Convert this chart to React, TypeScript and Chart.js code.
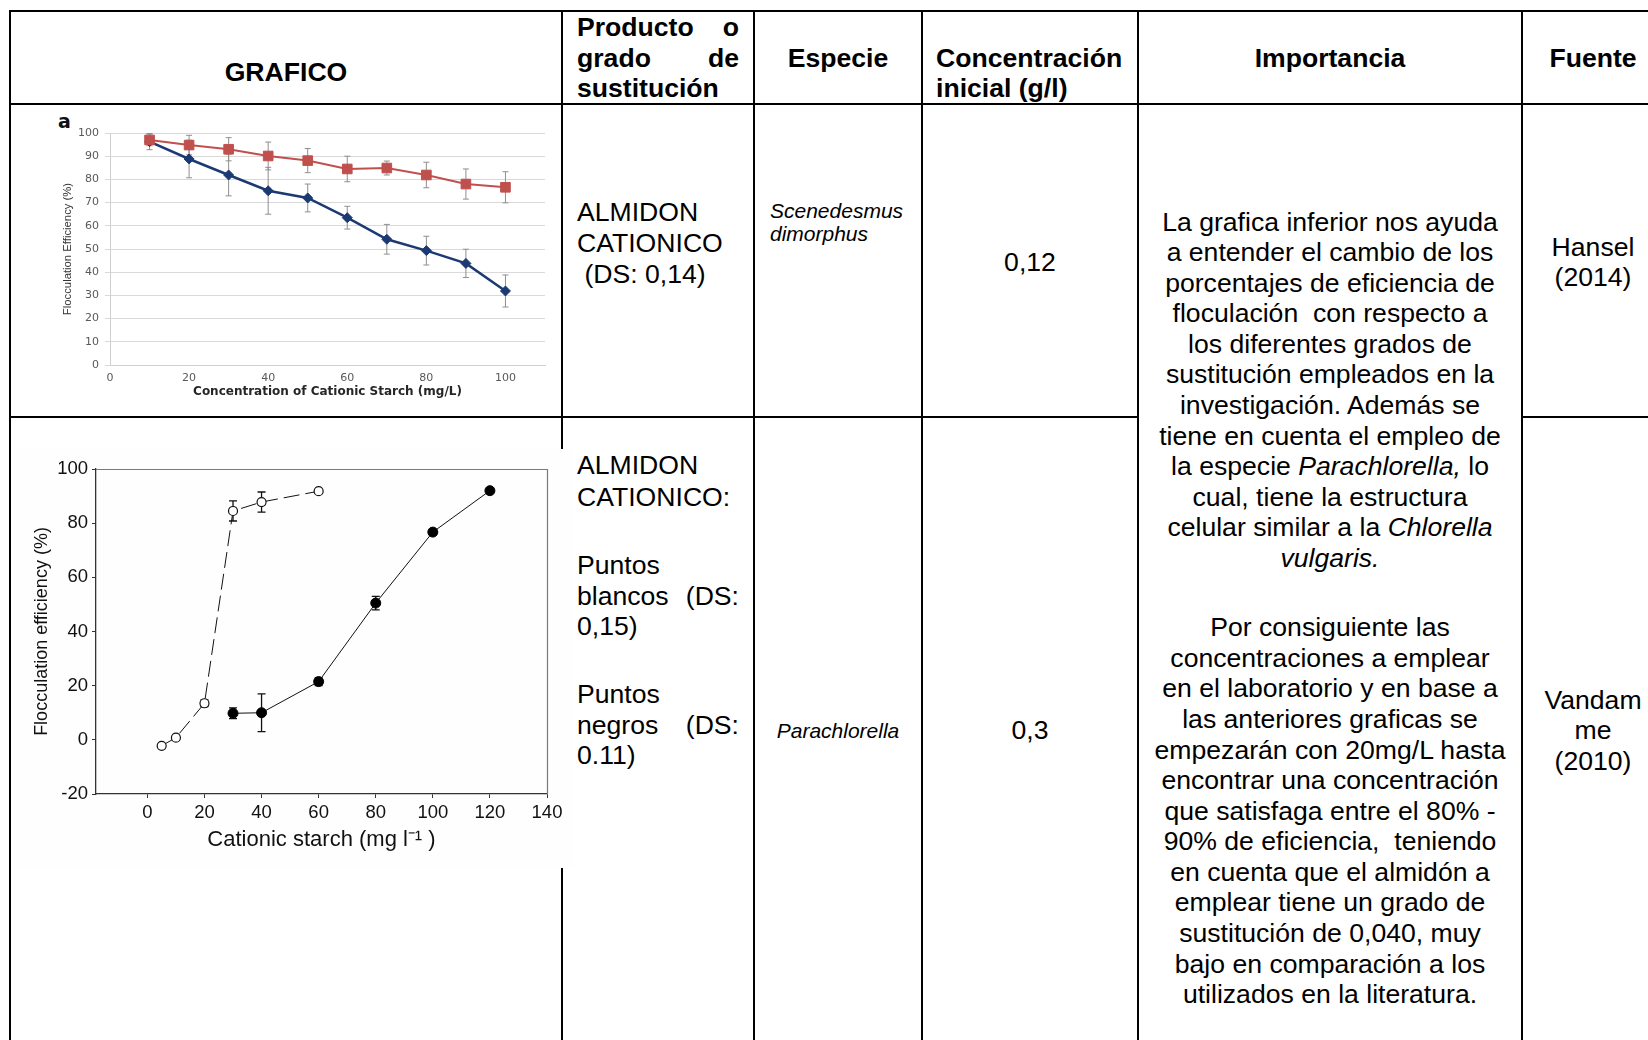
import React, { useEffect, useRef } from "react";
import { Chart, registerables } from "chart.js";

Chart.register(...registerables);

// ---------- chart a (Hansel 2014) ----------
const hanselX = [10, 20, 30, 40, 50, 60, 70, 80, 90, 100];
const hanselRed = [97, 94.8, 93, 90.1, 88.1, 84.5, 84.9, 81.9, 78, 76.6];
const hanselRedErr = [2.5, 4.2, 5, 6, 5.2, 5.5, 3, 5.5, 6.5, 6.7];
const hanselBlue = [96.3, 88.8, 81.9, 75.1, 72, 63.5, 54.2, 49.3, 43.8, 31.9];
const hanselBlueErr = [3.5, 8.1, 9, 10.1, 6, 4.9, 6.4, 6.2, 6.1, 6.9];
const hanselXTicks = [0, 20, 40, 60, 80, 100];
const hanselYTicks = [0, 10, 20, 30, 40, 50, 60, 70, 80, 90, 100];

// ---------- chart b (Vandamme 2010) ----------
const vanOpenX = [5, 10, 20, 30, 40, 60];
const vanOpenY = [-2.2, 0.8, 13.5, 84.5, 87.8, 91.8];
const vanOpenErr = [0, 0, 1.2, 3.7, 3.7, 0];
const vanFilledX = [30, 40, 60, 80, 100, 120];
const vanFilledY = [9.8, 10, 21.5, 50.5, 76.7, 92];
const vanFilledErr = [2, 7, 1.5, 2.5, 1, 0.6];
const vanXTicks = [0, 20, 40, 60, 80, 100, 120, 140];
const vanYTicks = [-20, 0, 20, 40, 60, 80, 100];

const FONT = '"Liberation Sans", Arial, sans-serif';
const FS = 26.6;
const LH = 30.58;

const errorBarPlugin = {
  id: "errorBars",
  beforeDatasetsDraw(chart: any) {
    const { ctx } = chart;
    chart.data.datasets.forEach((ds: any, i: number) => {
      if (!ds.errors) return;
      const meta = chart.getDatasetMeta(i);
      const xs = chart.scales[meta.xAxisID];
      const ys = chart.scales[meta.yAxisID];
      const cap = ds.errorCap || 3;
      ctx.save();
      ctx.strokeStyle = ds.errorColor;
      ctx.lineWidth = ds.errorWidth;
      ctx.beginPath();
      ds.data.forEach((p: any, j: number) => {
        const e = ds.errors[j];
        if (!e) return;
        const x = xs.getPixelForValue(p.x);
        const yt = ys.getPixelForValue(p.y + e);
        const yb = ys.getPixelForValue(p.y - e);
        ctx.moveTo(x, yt);
        ctx.lineTo(x, yb);
        ctx.moveTo(x - cap, yt);
        ctx.lineTo(x + cap, yt);
        ctx.moveTo(x - cap, yb);
        ctx.lineTo(x + cap, yb);
      });
      ctx.stroke();
      ctx.restore();
    });
  },
};

const framePlugin = {
  id: "frame",
  beforeDatasetsDraw(chart: any) {
    const { ctx, chartArea } = chart;
    const { left, right, top, bottom } = chartArea;
    ctx.save();
    ctx.strokeStyle = "#7a7a7a";
    ctx.lineWidth = 1.2;
    ctx.beginPath();
    ctx.moveTo(left, top + 0.5);
    ctx.lineTo(right + 0.5, top + 0.5);
    ctx.lineTo(right + 0.5, bottom);
    ctx.stroke();
    ctx.restore();
  },
};

function fixedTicks(values: number[]) {
  return (s: any) => {
    s.ticks = values.map((v) => ({ value: v }));
  };
}

function hanselConfig(): any {
  return {
    type: "scatter",
    data: {
      datasets: [
        {
          data: hanselX.map((x, i) => ({ x, y: hanselRed[i] })),
          showLine: true,
          borderColor: "#C0504D",
          backgroundColor: "#C0504D",
          borderWidth: 2,
          pointStyle: "rect",
          pointRadius: 6.8,
          pointBorderWidth: 1,
          errors: hanselRedErr,
          errorColor: "#8f8f8f",
          errorWidth: 1,
          errorCap: 3,
        },
        {
          data: hanselX.map((x, i) => ({ x, y: hanselBlue[i] })),
          showLine: true,
          borderColor: "#1B3A74",
          backgroundColor: "#1B3A74",
          borderWidth: 2.5,
          pointStyle: "rectRot",
          pointRadius: 5,
          pointBorderWidth: 1,
          errors: hanselBlueErr,
          errorColor: "#8f8f8f",
          errorWidth: 1,
          errorCap: 3,
        },
      ],
    },
    options: {
      responsive: false,
      animation: false,
      devicePixelRatio: 1,
      events: [],
      layout: { padding: { left: 0, top: 27, right: 15, bottom: 0 } },
      plugins: { legend: { display: false }, tooltip: { enabled: false } },
      scales: {
        x: {
          type: "linear",
          min: 0,
          max: 110,
          afterBuildTicks: fixedTicks(hanselXTicks),
          afterFit: (s: any) => {
            s.height = 50;
          },
          grid: { display: true, drawOnChartArea: false, drawTicks: false },
          border: { display: true, color: "#d0d0d0", width: 1 },
          ticks: {
            font: { family: "DejaVu Sans", size: 11 },
            color: "#595959",
            padding: 7,
            maxRotation: 0,
          },
          title: {
            display: true,
            text: "Concentration of Cationic Starch (mg/L)",
            font: { family: "DejaVu Sans", size: 12, weight: "bold" },
            color: "#262626",
            padding: { top: 0, bottom: 16 },
          },
        },
        y: {
          type: "linear",
          min: 0,
          max: 100,
          afterBuildTicks: fixedTicks(hanselYTicks),
          afterFit: (s: any) => {
            s.width = 70;
          },
          grid: { color: "#d9d9d9", tickLength: 5, drawTicks: true },
          border: { display: true, color: "#d0d0d0", width: 1 },
          ticks: {
            font: { family: "DejaVu Sans", size: 11 },
            color: "#595959",
            padding: 6,
          },
          title: {
            display: true,
            text: "Flocculation Efficiency (%)",
            font: { family: "Liberation Sans", size: 11.3 },
            color: "#333",
            padding: { top: 21.4, bottom: 0 },
          },
        },
      },
    },
    plugins: [errorBarPlugin],
  };
}

function vanConfig(): any {
  return {
    type: "scatter",
    data: {
      datasets: [
        {
          data: vanOpenX.map((x, i) => ({ x, y: vanOpenY[i] })),
          showLine: true,
          borderColor: "#111",
          borderWidth: 1,
          borderDash: [16, 6],
          pointStyle: "circle",
          pointRadius: 4.5,
          pointBackgroundColor: "#fff",
          pointBorderColor: "#111",
          pointBorderWidth: 1.2,
          errors: vanOpenErr,
          errorColor: "#111",
          errorWidth: 1.3,
          errorCap: 4,
        },
        {
          data: vanFilledX.map((x, i) => ({ x, y: vanFilledY[i] })),
          showLine: true,
          borderColor: "#111",
          borderWidth: 1,
          pointStyle: "circle",
          pointRadius: 5,
          pointBackgroundColor: "#000",
          pointBorderColor: "#000",
          pointBorderWidth: 1,
          errors: vanFilledErr,
          errorColor: "#111",
          errorWidth: 1.3,
          errorCap: 4,
        },
      ],
    },
    options: {
      responsive: false,
      animation: false,
      devicePixelRatio: 1,
      events: [],
      layout: { padding: { left: 0, top: 20, right: 26, bottom: 0 } },
      plugins: { legend: { display: false }, tooltip: { enabled: false } },
      scales: {
        x: {
          type: "linear",
          min: -18,
          max: 140,
          afterBuildTicks: fixedTicks(vanXTicks),
          afterFit: (s: any) => {
            s.height = 74;
          },
          grid: { display: true, drawOnChartArea: false, drawTicks: true, tickLength: 4, color: "#333" },
          border: { display: true, color: "#333", width: 1.3 },
          ticks: {
            font: { family: "Liberation Sans", size: 18.5 },
            color: "#111",
            padding: 4,
            maxRotation: 0,
          },
          title: {
            display: true,
            text: "Cationic starch (mg l\u207B\u00B9 )",
            font: { family: "Liberation Sans", size: 22 },
            color: "#111",
            padding: { top: 0, bottom: 15.3 },
          },
        },
        y: {
          type: "linear",
          min: -20,
          max: 100,
          afterBuildTicks: fixedTicks(vanYTicks),
          afterFit: (s: any) => {
            s.width = 83;
          },
          grid: { display: true, drawOnChartArea: false, drawTicks: true, tickLength: 4, color: "#333" },
          border: { display: true, color: "#333", width: 1.3 },
          ticks: {
            font: { family: "Liberation Sans", size: 18.5 },
            color: "#111",
            padding: 4,
          },
          title: {
            display: true,
            text: "Flocculation efficiency (%)",
            font: { family: "Liberation Sans", size: 18 },
            color: "#111",
            padding: { top: 18.2, bottom: 0 },
          },
        },
      },
    },
    plugins: [framePlugin, errorBarPlugin],
  };
}

function ChartCanvas(props: { left: number; top: number; width: number; height: number; build: () => any; bg?: string }) {
  const ref = useRef<HTMLCanvasElement>(null);
  useEffect(() => {
    const chart = new Chart(ref.current as HTMLCanvasElement, props.build());
    return () => chart.destroy();
  }, []);
  return (
    <canvas
      ref={ref}
      width={props.width}
      height={props.height}
      style={{
        position: "absolute",
        left: props.left,
        top: props.top,
        width: props.width,
        height: props.height,
        background: props.bg || "transparent",
      }}
    />
  );
}

function Txt(props: {
  x: number;
  y: number;
  w?: number;
  align?: "left" | "center";
  size?: number;
  lh?: number;
  bold?: boolean;
  italic?: boolean;
  children: React.ReactNode;
}) {
  const w = props.w ?? 400;
  const lh = props.lh ?? LH;
  const align = props.align ?? "left";
  const left = align === "center" ? props.x - w / 2 : props.x;
  return (
    <div
      style={{
        position: "absolute",
        left,
        top: props.y - lh / 2,
        width: w,
        textAlign: align,
        fontFamily: FONT,
        fontSize: props.size ?? FS,
        lineHeight: `${lh}px`,
        fontWeight: props.bold ? 700 : 400,
        fontStyle: props.italic ? "italic" : "normal",
        whiteSpace: "pre",
        color: "#000",
      }}
    >
      {props.children}
    </div>
  );
}

function Just(props: { x: number; y: number; w: number; a: string; b: string; bold?: boolean }) {
  return (
    <div
      style={{
        position: "absolute",
        left: props.x,
        top: props.y - LH / 2,
        width: props.w,
        display: "flex",
        justifyContent: "space-between",
        fontFamily: FONT,
        fontSize: FS,
        lineHeight: `${LH}px`,
        fontWeight: props.bold ? 700 : 400,
        whiteSpace: "pre",
        color: "#000",
      }}
    >
      <span>{props.a}</span>
      <span>{props.b}</span>
    </div>
  );
}

function HLine(p: { x: number; y: number; w: number }) {
  return <div style={{ position: "absolute", left: p.x, top: p.y, width: p.w, height: 2, background: "#000" }} />;
}
function VLine(p: { x: number; y: number; h: number }) {
  return <div style={{ position: "absolute", left: p.x, top: p.y, width: 2, height: p.h, background: "#000" }} />;
}

const I = (s: string) => <i>{s}</i>;

const importancia1: React.ReactNode[] = [
  "La grafica inferior nos ayuda",
  "a entender el cambio de los",
  "porcentajes de eficiencia de",
  "floculación  con respecto a",
  "los diferentes grados de",
  "sustitución empleados en la",
  "investigación. Además se",
  "tiene en cuenta el empleo de",
  <>la especie {I("Parachlorella,")} lo</>,
  "cual, tiene la estructura",
  <>celular similar a la {I("Chlorella")}</>,
  I("vulgaris."),
];
const importancia2: React.ReactNode[] = [
  "Por consiguiente las",
  "concentraciones a emplear",
  "en el laboratorio y en base a",
  "las anteriores graficas se",
  "empezarán con 20mg/L hasta",
  "encontrar una concentración",
  "que satisfaga entre el 80% -",
  "90% de eficiencia,  teniendo",
  "en cuenta que el almidón a",
  "emplear tiene un grado de",
  "sustitución de 0,040, muy",
  "bajo en comparación a los",
  "utilizados en la literatura.",
];

export default function App() {
  return (
    <div
      style={{
        position: "absolute",
        left: 0,
        top: 0,
        width: 1648,
        height: 1040,
        overflow: "hidden",
        background: "#fff",
      }}
    >
      {/* table lines */}
      <HLine x={9} y={10} w={1639} />
      <HLine x={9} y={103} w={1639} />
      <HLine x={9} y={416} w={1130} />
      <HLine x={1521} y={416} w={127} />
      <VLine x={9} y={10} h={1030} />
      <VLine x={561} y={10} h={1030} />
      <VLine x={753} y={10} h={1030} />
      <VLine x={921} y={10} h={1030} />
      <VLine x={1137} y={10} h={1030} />
      <VLine x={1521} y={10} h={1030} />

      {/* header */}
      <Txt x={286} y={72.5} align="center" bold>GRAFICO</Txt>
      <Just x={577} y={27.3} w={162} a="Producto" b="o" bold />
      <Just x={577} y={57.8} w={162} a="grado" b="de" bold />
      <Txt x={577} y={88.3} bold>sustitución</Txt>
      <Txt x={838} y={57.8} align="center" bold>Especie</Txt>
      <Txt x={936} y={57.8} bold>Concentración</Txt>
      <Txt x={936} y={88.3} bold>inicial (g/l)</Txt>
      <Txt x={1330} y={57.8} align="center" bold>Importancia</Txt>
      <Txt x={1593} y={57.8} align="center" bold>Fuente</Txt>

      {/* row 1 */}
      <div
        style={{
          position: "absolute",
          left: 58,
          top: 109.5,
          fontFamily: '"DejaVu Sans", sans-serif',
          fontWeight: 700,
          fontSize: 19,
          lineHeight: "22px",
          color: "#111",
        }}
      >
        a
      </div>
      <ChartCanvas left={40} top={106} width={520} height={309} build={hanselConfig} />
      <Txt x={577} y={212.5}>ALMIDON</Txt>
      <Txt x={577} y={243.5}>CATIONICO</Txt>
      <Txt x={577} y={274.2}>{" (DS: 0,14)"}</Txt>
      <Txt x={770} y={210.5} size={21} lh={23} italic>Scenedesmus</Txt>
      <Txt x={770} y={233.5} size={21} lh={23} italic>dimorphus</Txt>
      <Txt x={1030} y={262.7} align="center">0,12</Txt>
      {importancia1.map((l, i) => (
        <Txt key={"a" + i} x={1330} y={221.8 + i * LH} align="center">
          {l}
        </Txt>
      ))}
      {importancia2.map((l, i) => (
        <Txt key={"b" + i} x={1330} y={627.5 + i * LH} align="center">
          {l}
        </Txt>
      ))}
      <Txt x={1593} y={247} align="center">Hansel</Txt>
      <Txt x={1593} y={277.5} align="center">(2014)</Txt>

      {/* row 2 */}
      <ChartCanvas left={13} top={449} width={560} height={419} build={vanConfig} bg="#fefefe" />
      <Txt x={577} y={465.6}>ALMIDON</Txt>
      <Txt x={577} y={497.1}>CATIONICO:</Txt>
      <Txt x={577} y={565.4}>Puntos</Txt>
      <Just x={577} y={595.9} w={162} a="blancos" b="(DS:" />
      <Txt x={577} y={626.4}>0,15)</Txt>
      <Txt x={577} y={694.7}>Puntos</Txt>
      <Just x={577} y={725.2} w={162} a="negros" b="(DS:" />
      <Txt x={577} y={755.7}>0.11)</Txt>
      <Txt x={838} y={730.4} size={21} lh={23} align="center" italic>Parachlorella</Txt>
      <Txt x={1030} y={730.4} align="center">0,3</Txt>
      <Txt x={1593} y={700} align="center">Vandam</Txt>
      <Txt x={1593} y={730.4} align="center">me</Txt>
      <Txt x={1593} y={761} align="center">(2010)</Txt>
    </div>
  );
}
